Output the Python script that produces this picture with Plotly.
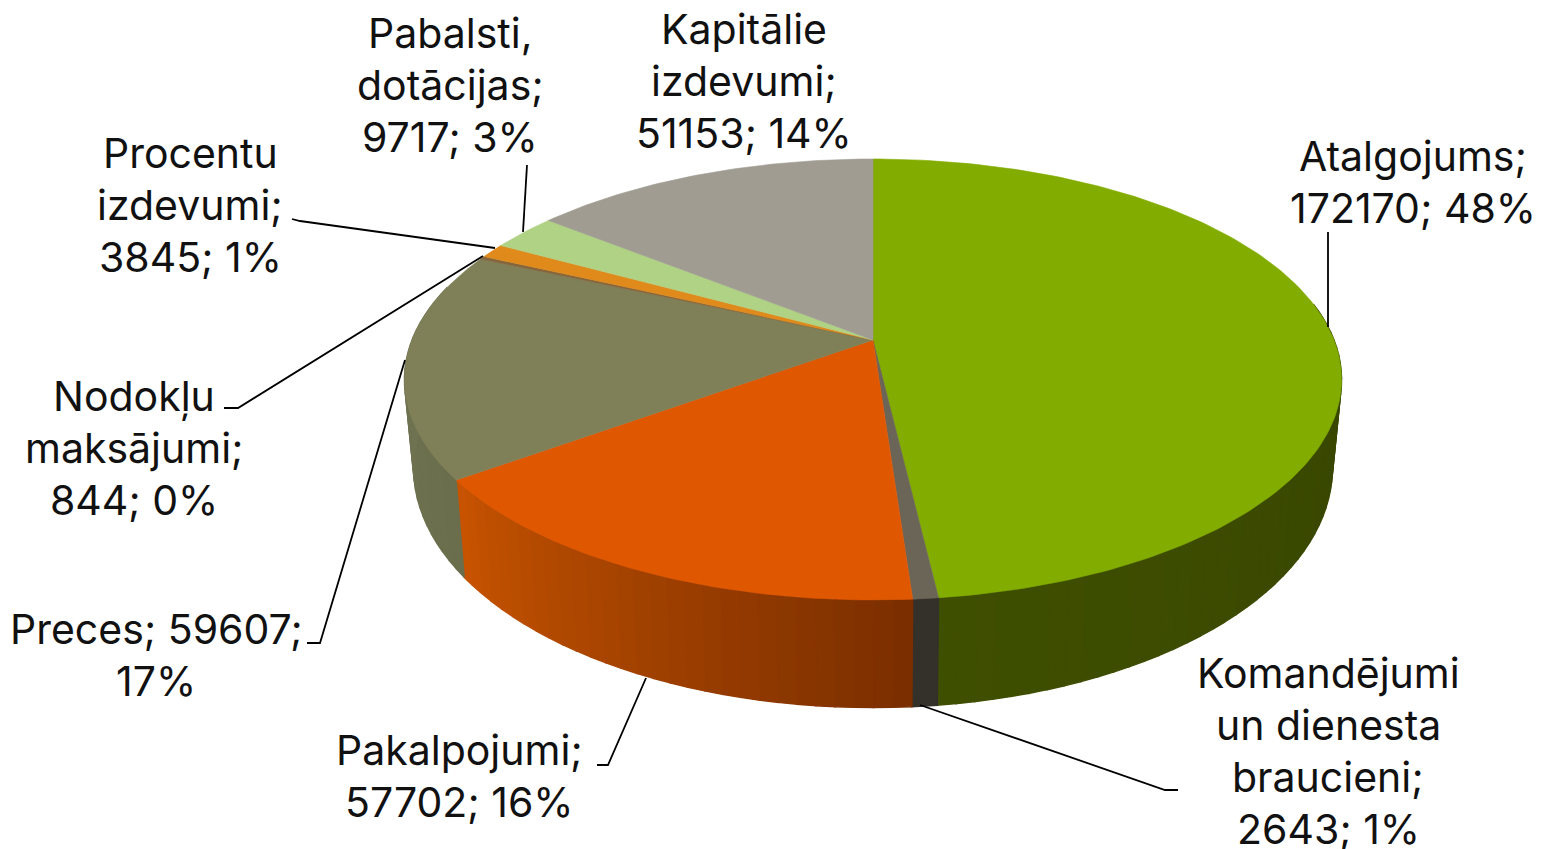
import math
import plotly.graph_objects as go

categories = ["Atalgojums", "Komandējumi un dienesta braucieni", "Pakalpojumi", "Preces",
              "Nodokļu maksājumi", "Procentu izdevumi", "Pabalsti, dotācijas", "Kapitālie izdevumi"]
values = [172170, 2643, 57702, 59607, 844, 3845, 9717, 51153]
top_colors = ["#82AC00", "#6B6558", "#DF5800", "#7F8058", "#85663C", "#DF8A1B", "#B0D285", "#A09C92"]
side_left = ["#3F4F00", "#34302A", "#C85400", "#6A6E4C", "#6A6E4C", "#8A5A10", "#70864F", "#66635C"]
side_right = ["#364400", "#34302A", "#7A2E00", "#727654", "#6A6E4C", "#8A5A10", "#70864F", "#66635C"]
label_lines = [
    ["Atalgojums;", "172170; 48%"],
    ["Komandējumi", "un dienesta", "braucieni;", "2643; 1%"],
    ["Pakalpojumi;", "57702; 16%"],
    ["Preces; 59607;", "17%"],
    ["Nodokļu", "maksājumi;", "844; 0%"],
    ["Procentu", "izdevumi;", "3845; 1%"],
    ["Pabalsti,", "dotācijas;", "9717; 3%"],
    ["Kapitālie", "izdevumi;", "51153; 14%"],
]
label_x = [1413, 1328, 459, 156, 134, 190, 450, 744]
label_y = [182, 751, 776, 655, 448, 205, 85, 81]
LINE_GAP = 52
leader_x = [[1328, 1328], [1178, 1165, 920], [597, 608, 646], [307, 320, 405],
            [224, 238, 483], [292, 300, 495], [527, 523]]
leader_y = [[232, 327], [790, 790, 705], [765, 765, 678], [643, 643, 360],
            [408, 408, 256], [219, 221, 248], [165, 232]]

# perspective projection of the top and bottom discs
CX = 873
TOP = dict(a=461.0, b=213.4, k=0.179, y0=340.0)
BOT = dict(a=452.0, b=232.0, k=0.179, y0=425.0)


def proj(theta, p):
    u, v = math.sin(theta), math.cos(theta)
    d = 1 + p["k"] * v
    return CX + p["a"] * u / d, p["y0"] - p["b"] * v / d


def mix(c1, c2, t):
    a = [int(c1[i:i + 2], 16) for i in (1, 3, 5)]
    b = [int(c2[i:i + 2], 16) for i in (1, 3, 5)]
    return "#%02x%02x%02x" % tuple(round(x + (y - x) * t) for x, y in zip(a, b))


total = sum(values)
fig = go.Figure()
cum = 0
slices = []
for val in values:
    slices.append((cum / total * 2 * math.pi, (cum + val) / total * 2 * math.pi))
    cum += val


def poly(xs, ys, color, w=0.8):
    fig.add_trace(go.Scatter(x=xs, y=ys, mode="lines", fill="toself", fillcolor=color,
                             line=dict(color=color, width=w), hoverinfo="skip", showlegend=False))


# side walls
STEP = math.radians(2)
for i, (t0, t1) in enumerate(slices):
    vis0, vis1 = max(t0, math.radians(80)), min(t1, math.radians(285))
    if vis1 <= vis0:
        continue
    n = max(1, round((vis1 - vis0) / STEP))
    for j in range(n):
        a = vis0 + (vis1 - vis0) * j / n
        b = vis0 + (vis1 - vis0) * (j + 1) / n
        frac = 1 - (j + 0.5) / n if i != 3 else (j + 0.5) / n
        col = mix(side_left[i], side_right[i], frac)
        p = [proj(a, TOP), proj(b, TOP), proj(b, BOT), proj(a, BOT)]
        poly([q[0] for q in p] + [p[0][0]], [q[1] for q in p] + [p[0][1]], col, 1.4)

# top faces
for i, (t0, t1) in enumerate(slices):
    n = max(2, int((t1 - t0) / math.radians(1)))
    pts = [proj(t0 + (t1 - t0) * j / n, TOP) for j in range(n + 1)]
    xs = [CX] + [q[0] for q in pts] + [CX]
    ys = [TOP["y0"]] + [q[1] for q in pts] + [TOP["y0"]]
    poly(xs, ys, top_colors[i], 0.6)

# leader lines
for xs, ys in zip(leader_x, leader_y):
    fig.add_trace(go.Scatter(x=xs, y=ys, mode="lines", line=dict(color="#000000", width=1.8),
                             hoverinfo="skip", showlegend=False))

# one text per line, so the line gap can be set apart from the font size
for lines, x, y in zip(label_lines, label_x, label_y):
    for k, line in enumerate(lines):
        fig.add_annotation(x=x, y=y + (k - (len(lines) - 1) / 2) * LINE_GAP, xref="x", yref="y",
                           text=line, showarrow=False, align="center",
                           xanchor="center", yanchor="middle",
                           font=dict(family="Inter, sans-serif", size=41, color="#111111"))

# the page body has an 8 px margin, so the plot starts at (8, 8)
fig.update_xaxes(range=[8, 1543], visible=False, fixedrange=True)
fig.update_yaxes(range=[849, 8], visible=False, fixedrange=True)
fig.update_layout(width=1535, height=841, margin=dict(l=0, r=0, t=0, b=0),
                  paper_bgcolor="#FFFFFF", plot_bgcolor="#FFFFFF", showlegend=False)
fig.write_html("out.html")
